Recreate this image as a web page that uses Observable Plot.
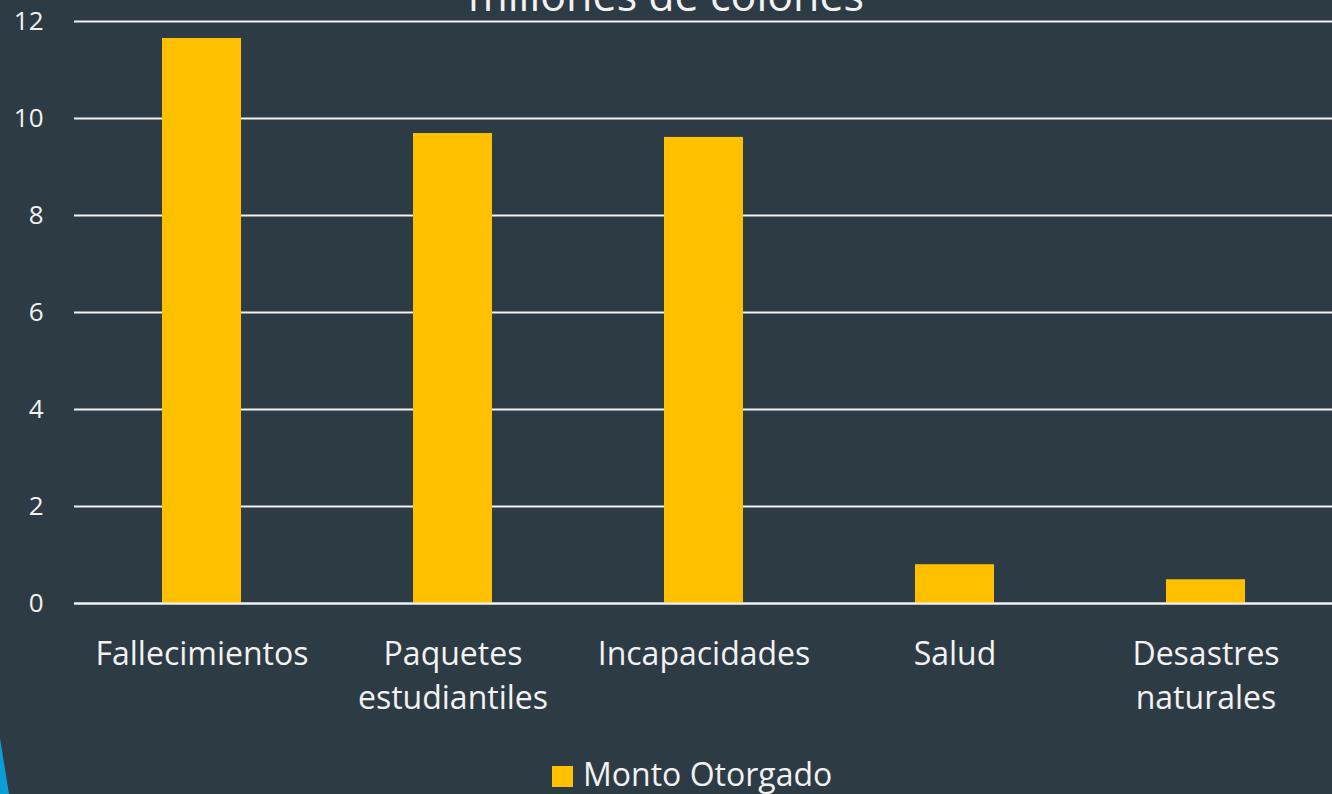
<!DOCTYPE html>
<html>
<head>
<meta charset="utf-8">
<script src="https://cdn.jsdelivr.net/npm/d3@7"></script>
<script src="https://cdn.jsdelivr.net/npm/@observablehq/plot@0.6"></script>
<style>
  html, body { margin: 0; padding: 0; background: #2D3B44; }
  #wrap { position: relative; width: 1332px; height: 794px; overflow: hidden; background: #2D3B44; font-family: "Open Sans", sans-serif; color: #F2F2F2; }
  #title { position: absolute; left: 0; width: 1332px; text-align: center; top: -35px; font-size: 43px; line-height: 60px; color: #F2F2F2; white-space: nowrap; }
  #legend { position: absolute; left: 552px; top: 752px; font-size: 32px; line-height: 44px; color: #F2F2F2; white-space: nowrap; }
  #legend .sw { display: inline-block; width: 21px; height: 21px; background: #FFC000; margin-right: 10px; vertical-align: -1px; }
  #deco { position: absolute; left: 0; top: 738px; width: 9px; height: 56px; background: #0A9ED6; clip-path: polygon(0 0, 100% 100%, 0 100%); }
  #chart { position: absolute; left: 0; top: 0; }
</style>
</head>
<body>
<div id="wrap">
  <div id="chart"></div>
  <div id="title">millones de colones</div>
  <div id="legend"><span class="sw"></span>Monto Otorgado</div>
  <div id="deco"></div>
</div>
<script>
const categories = ["Fallecimientos", "Paquetes estudiantiles", "Incapacidades", "Salud", "Desastres naturales"];
const tickLabels = ["Fallecimientos", "Paquetes\nestudiantiles", "Incapacidades", "Salud", "Desastres\nnaturales"];
const values = [11.65, 9.69, 9.61, 0.80, 0.49];
const yTicks = [0, 2, 4, 6, 8, 10, 12];
const seriesName = "Monto Otorgado";

const data = categories.map((c, i) => ({category: c, value: values[i], series: seriesName}));
const labelOf = new Map(categories.map((c, i) => [c, tickLabels[i]]));

const chart = Plot.plot({
  width: 1332,
  height: 794,
  marginLeft: 74,
  marginRight: 0,
  marginTop: 21,
  marginBottom: 191,
  style: {background: "transparent", color: "#F2F2F2", fontFamily: "Open Sans, sans-serif", overflow: "visible"},
  x: {domain: categories, paddingInner: 0.686, paddingOuter: 0.343, align: 0.5},
  y: {domain: [0, 12]},
  marks: [
    Plot.gridY(yTicks, {stroke: "#F2F2F2", strokeOpacity: 1, strokeWidth: 2}),
    Plot.barY(data, {x: "category", y: "value", fill: "#FFC000"}),
    Plot.ruleY([0], {stroke: "#F2F2F2", strokeWidth: 2}),
    Plot.axisY(yTicks, {tickSize: 0, tickPadding: 31, fontSize: 26, fill: "#F2F2F2", label: null}),
    Plot.axisX({tickSize: 0, tickPadding: 30, fontSize: 32, fill: "#F2F2F2", label: null, lineHeight: 1.375, lineAnchor: "top", tickFormat: d => labelOf.get(d)})
  ]
});
document.getElementById("chart").appendChild(chart);
</script>
</body>
</html>
